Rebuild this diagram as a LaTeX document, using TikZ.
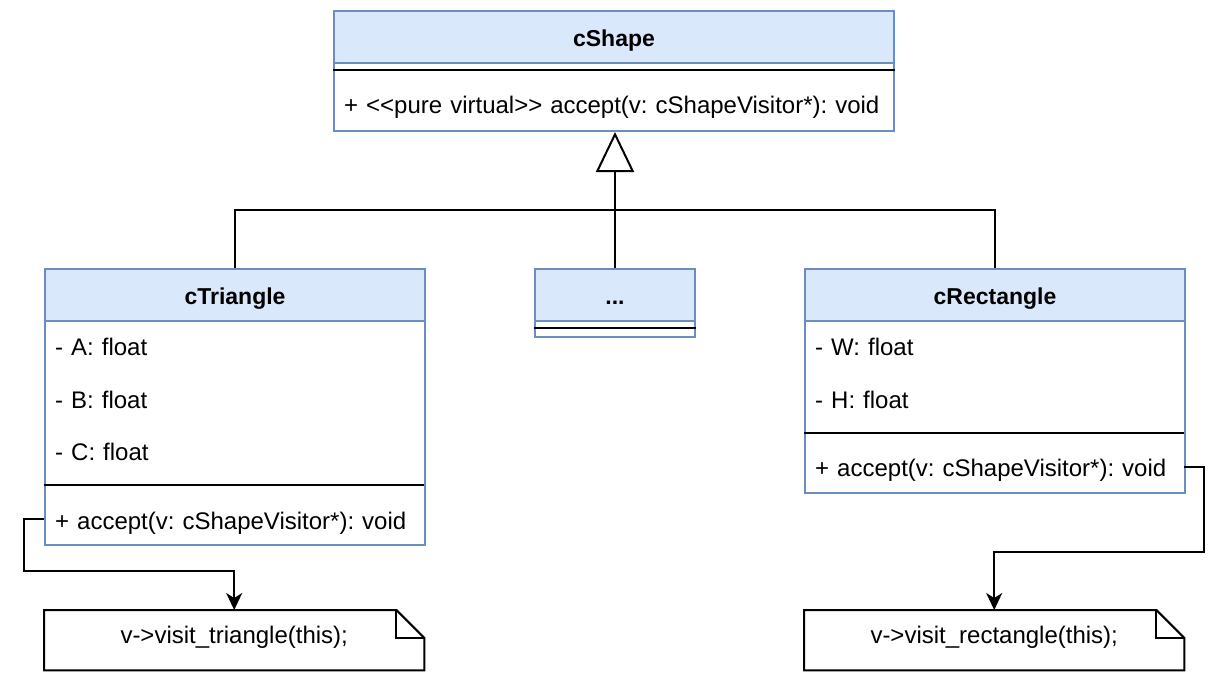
\documentclass[tikz,border=0pt]{standalone}
\usepackage{fontspec}
\setmainfont{Liberation Sans}
\usetikzlibrary{arrows.meta}
\definecolor{hdrfill}{HTML}{DAE8FC}
\definecolor{hdrdraw}{HTML}{6C8EBF}
\begin{document}
\begin{tikzpicture}[x=1pt,y=-1pt,
  every node/.style={font=\fontsize{24}{28}\selectfont, execute at begin node=\frenchspacing},
  hdr/.style={draw=hdrdraw, fill=hdrfill, line width=2pt, anchor=north west,
    minimum height=52pt, inner sep=0pt, text height=24pt, text depth=4.6pt,
    font=\fontsize{23}{28}\selectfont\bfseries},
  classbody/.style={draw=hdrdraw, fill=white, line width=2pt, anchor=north west, inner sep=0pt},
  row/.style={anchor=north west, minimum height=52pt, inner xsep=11pt, inner ysep=0pt,
    text width=#1, align=left, text height=26pt, text depth=6.6pt},
  sep/.style={draw=black, line width=2pt},
  conn/.style={draw=black, line width=2pt},
  notebox/.style={anchor=north west, inner sep=0pt, minimum height=60pt, text height=20pt, text depth=13pt},
  noteline/.style={draw=black, line width=2pt, line join=miter}
]
\useasboundingbox (0,0) rectangle (1230,680);

% ---------- cShape ----------
\node[classbody, minimum width=560pt, minimum height=68pt] (shapeB) at (333,62) {};
\node[hdr, minimum width=560pt] (shapeH) at (333,10) {cShape};
\draw[sep] ([yshift=-8pt]shapeB.north west) -- ([yshift=-8pt]shapeB.north east);
\node[row=538pt] (shapeM) at ([yshift=-16pt]shapeB.north west) {\mbox{+ <\kern0pt<pure virtual>\kern0pt> accept(v: cShapeVisitor*): void}};

% ---------- cTriangle ----------
\node[classbody, minimum width=380pt, minimum height=224pt] (triB) at (44,320) {};
\node[hdr, minimum width=380pt] (triH) at (44,268) {cTriangle};
\node[row=358pt] (triA) at (triB.north west) {- A: float};
\node[row=358pt] (triBB) at (triA.south west) {- B: float};
\node[row=358pt] (triC) at (triBB.south west) {- C: float};
\draw[sep] ([yshift=-8pt]triC.south west) -- ([yshift=-8pt]triC.south east);
\node[row=358pt] (triM) at ([yshift=-16pt]triC.south west) {\mbox{+ accept(v: cShapeVisitor*): void}};

% ---------- ... ----------
\node[classbody, minimum width=160pt, minimum height=16pt] (dotsB) at (534,320) {};
\node[hdr, minimum width=160pt] (dotsH) at (534,268) {...};
\draw[sep] ([yshift=-8pt]dotsB.north west) -- ([yshift=-8pt]dotsB.north east);

% ---------- cRectangle ----------
\node[classbody, minimum width=380pt, minimum height=172pt] (recB) at (804,320) {};
\node[hdr, minimum width=380pt] (recH) at (804,268) {cRectangle};
\node[row=358pt] (recW) at (recB.north west) {- W: float};
\node[row=358pt] (recHH) at (recW.south west) {- H: float};
\draw[sep] ([yshift=-8pt]recHH.south west) -- ([yshift=-8pt]recHH.south east);
\node[row=358pt] (recM) at ([yshift=-16pt]recHH.south west) {\mbox{+ accept(v: cShapeVisitor*): void}};

% ---------- notes ----------
\node[notebox, minimum width=380pt] (n1) at (44,610) {v->visit\_triangle(this);};
\node[notebox, minimum width=380pt] (n2) at (804,610) {v->visit\_rectangle(this);};
\foreach \n in {n1,n2}{
  \draw[noteline] (\n.north west) -- ([xshift=-28pt]\n.north east) -- ([yshift=-28pt]\n.north east)
    -- (\n.south east) -- (\n.south west) -- cycle;
  \draw[noteline] ([xshift=-28pt]\n.north east) |- ([yshift=-28pt]\n.north east);
}

% ---------- inheritance ----------
\coordinate (j) at (614,210);
\draw[conn] (triH.north) |- (j);
\draw[conn] (recH.north) |- (j);
\draw[conn, -{Triangle[open, length=40pt, width=38pt, line width=2pt]}] (dotsH.north) -- (dotsH.north |- shapeB.south);

% ---------- note connectors ----------
\draw[conn, -{Stealth[length=17pt, width=16pt, inset=5pt]}] (triM.west) -- ++(-20,0) -- ++(0,52) -| (n1.north);
\draw[conn, -{Stealth[length=17pt, width=16pt, inset=5pt]}] (recM.east) -- ++(20,0) -- ++(0,85) -| (n2.north);
\end{tikzpicture}
\end{document}
